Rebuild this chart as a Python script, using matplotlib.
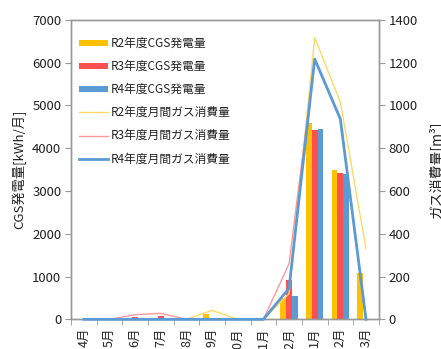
import numpy as np
import matplotlib
matplotlib.use("Agg")
import matplotlib.pyplot as plt
from matplotlib.ticker import FixedLocator

plt.rcParams['font.family'] = ['Noto Sans CJK JP', 'DejaVu Sans']

months = ['4月', '5月', '6月', '7月', '8月', '9月', '10月', '11月', '12月', '1月', '2月', '3月']

# CGS generation [kWh/month]
cgs_r2 = [0, 0, 0, 0, 0, 120, 0, 0, 490, 4580, 3490, 1075]
cgs_r3 = [0, 0, 60, 70, 0, 0, 0, 0, 920, 4430, 3410, 0]
cgs_r4 = [0, 0, 0, 0, 0, 0, 0, 0, 550, 4440, 3400, 0]

# Monthly gas consumption [m3]
gas_r2 = [0, 0, 0, 0, 0, 42, 0, 0, 120, 1317, 1015, 330]
gas_r3 = [0, 0, 22, 28, 0, 0, 0, 0, 260, 1215, 935, 0]
gas_r4 = [0, 0, 0, 0, 0, 0, 0, 0, 145, 1217, 937, 0]

bar_labels = ['R2年度CGS発電量', 'R3年度CGS発電量', 'R4年度CGS発電量']
line_labels = ['R2年度月間ガス消費量', 'R3年度月間ガス消費量', 'R4年度月間ガス消費量']

bar_colors = ['#FFC000', '#FF5050', '#5B9BD5']
line_colors = ['#FFD966', '#FF9999', '#5B9BD5']
line_widths = [1.0, 1.0, 2.0]

fig = plt.figure(figsize=(4.41, 3.49), dpi=100)
ax = fig.add_axes([0.161, 0.085, 0.698, 0.858])
ax2 = ax.twinx()

x = np.arange(len(months))
w = 0.225
handles = []
for i, (vals, c, lab) in enumerate(zip([cgs_r2, cgs_r3, cgs_r4], bar_colors, bar_labels)):
    h = ax.bar(x + (i - 1) * w, vals, width=w, color=c, label=lab, zorder=2)
    handles.append(h)

for vals, c, lw, lab in zip([gas_r2, gas_r3, gas_r4], line_colors, line_widths, line_labels):
    h, = ax2.plot(x, vals, color=c, lw=lw, label=lab, clip_on=False, zorder=3)
    handles.append(h)

ax.set_xlim(-0.5, len(months) - 0.5)
ax.set_ylim(0, 7000)
ax2.set_ylim(0, 1400)
ax.set_yticks(np.arange(0, 7001, 1000))
ax2.set_yticks(np.arange(0, 1401, 200))

ax.set_xticks(x)
ax.set_xticklabels(months, rotation=90, fontsize=9, color='#222222')
ax.tick_params(axis='x', which='major', length=0, pad=6)
ax.xaxis.set_minor_locator(FixedLocator(np.arange(-0.5, len(months), 1.0)))
ax.tick_params(axis='x', which='minor', length=4, color='#999999')

ax.tick_params(axis='y', labelsize=9.5, length=4, color='#999999', labelcolor='#222222', pad=3)
ax2.tick_params(axis='y', labelsize=9.5, length=4, color='#999999', labelcolor='#222222', pad=3)

for a in (ax, ax2):
    for s in a.spines.values():
        s.set_color('#999999')
        s.set_linewidth(1.0)

ax.set_ylabel('CGS発電量[kWh/月]', fontsize=9.5, color='#222222', labelpad=4)
ax2.set_ylabel('ガス消費量[m³]', fontsize=10, color='#222222', labelpad=8)

ax.set_zorder(ax2.get_zorder() - 1)
ax2.patch.set_visible(False)

leg = ax2.legend(handles=handles, loc='upper left', bbox_to_anchor=(0.0, 0.97),
                 frameon=False, fontsize=8.5, handlelength=2.4, handleheight=0.5,
                 labelspacing=0.85, handletextpad=0.3, borderaxespad=0.3)
for t in leg.get_texts():
    t.set_color('#222222')

fig.savefig('out.png', dpi=100)
